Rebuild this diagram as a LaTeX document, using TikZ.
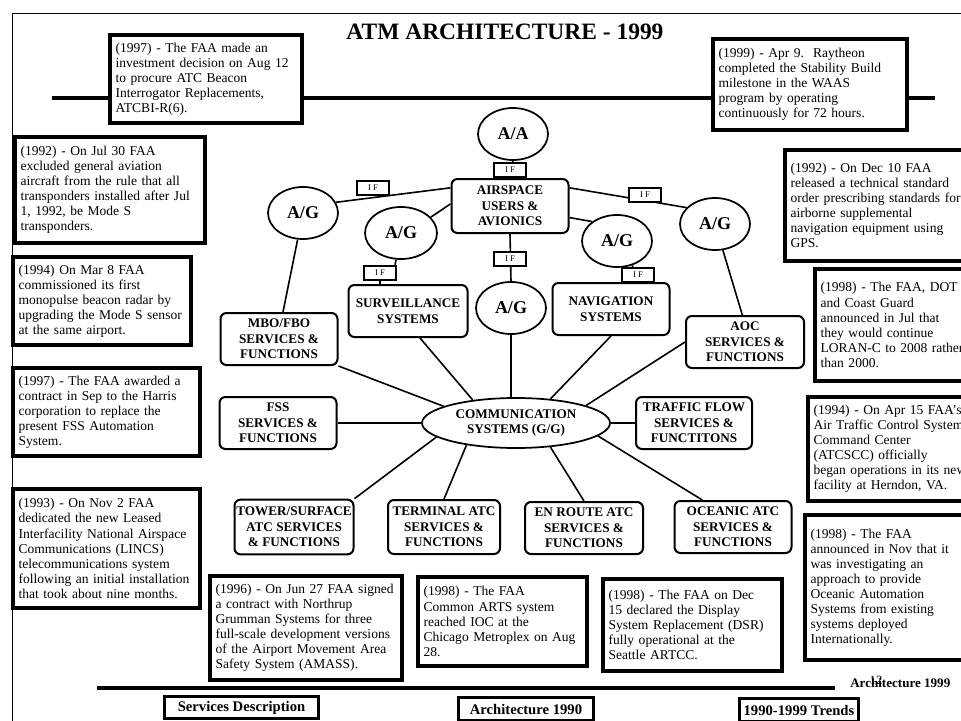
\documentclass[tikz,border=0pt]{standalone}
\usepackage{fontspec}
\setmainfont{Liberation Serif}
\usetikzlibrary{shapes.geometric}
\hyphenpenalty=10000
\exhyphenpenalty=10000
\begin{document}
\begin{tikzpicture}[x=0.75pt,y=-0.75pt,
  evbox/.style={draw, line width=3.2pt, fill=white, align=left, inner xsep=4.5pt, inner ysep=2pt, font=\fontsize{10.15}{11.3}\selectfont},
  agnode/.style={draw, ellipse, line width=1.3pt, fill=white, minimum width=52.5pt, minimum height=39pt, inner sep=0pt, font=\fontsize{13.5}{15}\selectfont\bfseries},
  sysbox/.style={draw, rounded corners=4.5pt, line width=1.5pt, fill=white, align=center, inner sep=1pt, minimum width=87.75pt, minimum height=39pt, font=\fontsize{9.9}{11.6}\selectfont\bfseries},
  ifbox/.style={draw, line width=1.6pt, fill=white, minimum width=24pt, minimum height=10.5pt, inner sep=0pt, font=\fontsize{6.5}{7}\selectfont},
  conn/.style={line width=1.2pt},
  navbtn/.style={draw, line width=2.2pt, fill=white, inner xsep=3pt, inner ysep=2pt, minimum height=17pt, font=\fontsize{11}{12}\selectfont\bfseries},
]
\useasboundingbox (0,0) rectangle (961,721);
\fill[white] (0,0) rectangle (961,721);
\clip (0,0) rectangle (961,721);

% page frame
\coordinate (pgBL) at (12,721);
\coordinate (pgTL) at (12,13);
\coordinate (pgTR) at (961,13);
\draw[line width=0.6pt] (pgBL) -- (pgTL) -- (pgTR);

% title
\node[anchor=base, font=\fontsize{17.6}{20}\selectfont\bfseries] (title) at (505,40) {ATM ARCHITECTURE - 1999};

% timeline lines
\coordinate (tlA) at (52,98);
\coordinate (tlB) at (935,98);
\draw[line width=2.4pt] (tlA) -- (tlB);
\coordinate (blA) at (97,688);
\coordinate (blB) at (835,688);
\draw[line width=2.4pt] (blA) -- (blB);

% event boxes
\node[evbox, text width=135.5pt, minimum height=66pt] (e1) at (206,79) {(1997) - The FAA made an\\investment decision on Aug 12\\to procure ATC Beacon\\Interrogator Replacements,\\ATCBI-R(6).};
\node[evbox, text width=137pt, minimum height=68.25pt] (e2) at (810,84.5) {(1999) - Apr 9.\ \ Raytheon\\completed the Stability Build\\milestone in the WAAS\\program by operating\\continuously for 72 hours.};
\node[evbox, text width=134pt, minimum height=79.5pt] (e3) at (110,190) {(1992) - On Jul 30 FAA\\excluded general aviation\\aircraft from the rule that all\\transponders installed after Jul\\1, 1992, be Mode S\\transponders.};
\node[evbox, text width=125pt, inner xsep=4pt, minimum height=66pt] (e4) at (102,301) {(1994) On Mar 8 FAA\\commissioned its first\\monopulse beacon radar by\\upgrading the Mode S sensor\\at the same airport.};
\node[evbox, text width=131.75pt, minimum height=66pt] (e5) at (106.5,412) {(1997) - The FAA awarded a\\contract in Sep to the Harris\\corporation to replace the\\present FSS Automation\\System.};
\node[evbox, text width=131.75pt, minimum height=89.25pt] (e6) at (106.5,548.5) {(1993) - On Nov 2 FAA\\dedicated the new Leased\\Interfacility National Airspace\\Communications (LINCS)\\telecommunications system\\following an initial installation\\that took about nine months.};
\node[evbox, text width=135.5pt, minimum height=78pt] (e7) at (306,628) {(1996) - On Jun 27 FAA signed\\a contract with Northrup\\Grumman Systems for three\\full-scale development versions\\of the Airport Movement Area\\Safety System (AMASS).};
\node[evbox, text width=118.25pt, minimum height=66.75pt] (e8) at (502.5,621.5) {(1998) - The FAA\\Common ARTS system\\reached IOC at the\\Chicago Metroplex on Aug\\28.};
\node[evbox, text width=125.75pt, minimum height=69pt] (e9) at (692.5,625) {(1998) - The FAA on Dec\\15 declared the Display\\System Replacement (DSR)\\fully operational at the\\Seattle ARTCC.};
\node[evbox, text width=143pt, minimum height=83.25pt] (e10) at (886,205.5) {(1992) - On Dec 10 FAA\\released a technical standard\\order prescribing standards for\\airborne supplemental\\navigation equipment using\\GPS.};
\node[evbox, text width=120.5pt, minimum height=84pt] (e11) at (901,325) {(1998) - The FAA, DOT\\and Coast Guard\\announced in Jul that\\they would continue\\LORAN-C to 2008 rather\\than 2000.};
\node[evbox, text width=125.75pt, minimum height=78pt] (e12) at (897.5,449) {(1994) - On Apr 15 FAA's\\Air Traffic Control System\\Command Center\\(ATCSCC) officially\\began operations in its new\\facility at Herndon, VA.};
\node[evbox, text width=128pt, minimum height=108.75pt] (e13) at (896,587.5) {(1998) - The FAA\\announced in Nov that it\\was investigating an\\approach to provide\\Oceanic Automation\\Systems from existing\\systems deployed\\Internationally.};

% main diagram nodes
\node[agnode] (aa) at (513,134) {A/A};
\node[sysbox, minimum height=40.5pt] (air) at (510,206) {AIRSPACE\\USERS \&\\AVIONICS};
\node[agnode] (ag1) at (303,213) {A/G};
\node[agnode, minimum width=54pt] (ag2) at (401,233) {A/G};
\node[agnode] (agc) at (511,308) {A/G};
\node[agnode] (ag3) at (617,241) {A/G};
\node[agnode] (ag4) at (715,224) {A/G};
\node[sysbox, minimum width=89.25pt] (surv) at (408,311) {SURVEILLANCE\\SYSTEMS};
\node[sysbox] (nav) at (611,309) {NAVIGATION\\SYSTEMS};
\node[sysbox] (mbo) at (279,339) {MBO/FBO\\SERVICES \&\\FUNCTIONS};
\node[sysbox, minimum width=88.5pt] (aoc) at (745,342) {AOC\\SERVICES \&\\FUNCTIONS};
\node[sysbox] (fss) at (278,423) {FSS\\SERVICES \&\\FUNCTIONS};
\node[draw, ellipse, line width=1.3pt, fill=white, minimum width=141pt, minimum height=37.5pt, inner sep=0pt, align=center, font=\fontsize{9.9}{11.6}\selectfont\bfseries] (comm) at (516,423) {COMMUNICATION\\SYSTEMS (G/G)};
\node[sysbox, minimum width=87pt] (tf) at (694,423) {TRAFFIC FLOW\\SERVICES \&\\FUNCTITONS};
\node[sysbox, minimum width=89.25pt, minimum height=41pt] (tower) at (294,527) {TOWER/SURFACE\\ATC SERVICES\\\& FUNCTIONS};
\node[sysbox, minimum width=84pt, minimum height=40.5pt] (term) at (444,527) {TERMINAL ATC\\SERVICES \&\\FUNCTIONS};
\node[sysbox, minimum width=88.5pt] (enr) at (584,528) {EN ROUTE ATC\\SERVICES \&\\FUNCTIONS};
\node[sysbox] (oce) at (733,527) {OCEANIC ATC\\SERVICES \&\\FUNCTIONS};

% interface boxes that end connectors
\node[ifbox] (if2) at (380,273) {I F};
\node[ifbox] (if3) at (638,275) {I F};

% connectors
\draw[conn] (aa.south) -- (air.north);
\draw[conn] (ag1.18) -- (air.163);
\draw[conn] (ag2.28) -- (air.178);
\draw[conn] (air.17) -- (ag4.150);
\draw[conn] (air.349) -- (ag3.142);
\draw[conn] (air.south) -- (agc.north);
\draw[conn] ([xshift=-1.5pt]if2.north east) -- (ag2);
\draw[conn] (if2.south) -- (if2.south |- surv.north);
\draw[conn] ([xshift=-3.75pt]if3.north) -- (ag3);
\draw[conn] (if3.south) -- (if3.south |- nav.north);
\draw[conn] ([xshift=3pt]mbo.north) -- (ag1);
\draw[conn] ([xshift=-2pt]aoc.north) -- (ag4);
\draw[conn] (mbo.south east) -- (comm.167);
\draw[conn] ([xshift=9pt]surv.south) -- (comm.152);
\draw[conn] (agc.south) -- (agc.south |- comm.north);
\draw[conn] (nav.south) -- (comm.35);
\draw[conn] (aoc.west) -- (comm.14);
\draw[conn] (fss.east) -- (comm.west);
\draw[conn] (comm.east) -- (tf.west);
\draw[conn] (comm.190) -- (tower.north east);
\draw[conn] (comm.204) -- (term.north);
\draw[conn] (comm.325) -- (enr.north);
\draw[conn] (comm.351) -- ([xshift=-23pt]oce.north);

% interface boxes sitting on connectors
\node[ifbox] (ift) at (510,170) {I F};
\node[ifbox] (ifl) at (373,188) {I F};
\node[ifbox] (ifc) at (510,259) {I F};
\node[ifbox] (ifr) at (645,195) {I F};

% navigation buttons and footer
\node[navbtn, minimum width=115.5pt] (svc) at (241.5,707.5) {Services Description};
\node[navbtn, minimum width=101pt] (arc90) at (526,709) {Architecture 1990};
\node[navbtn, minimum width=89pt] (trend) at (799,710) {1990-1999 Trends};
\node[anchor=base west, inner sep=0pt, font=\fontsize{9.8}{11}\selectfont\bfseries] (arch99) at (850,687) {Architecture 1999};
\node[anchor=base, inner sep=0pt, font=\fontsize{9.5}{10}\selectfont] (pgnum) at (876,684) {12};
\end{tikzpicture}
\end{document}
